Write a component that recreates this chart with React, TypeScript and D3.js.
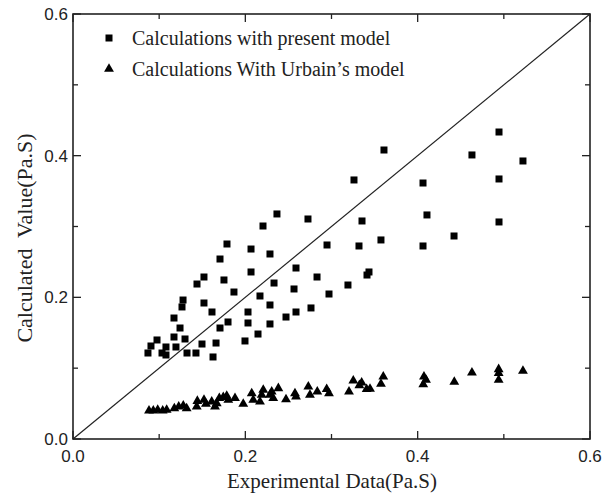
import React from "react";
import * as d3 from "d3";

const presentX = [0.2367,0.2205,0.1787,0.2066,0.2286,0.1706,0.1520,0.1439,0.1752,0.2066,0.2333,0.1868,0.2170,0.1277,0.1265,0.1520,0.1613,0.2286,0.2031,0.1172,0.1799,0.2031,0.1242,0.1706,0.2147,0.1172,0.1300,0.0975,0.0905,0.1079,0.1195,0.1497,0.1660,0.1996,0.0870,0.1033,0.1079,0.1323,0.1427,0.1625,0.4944,0.3609,0.4630,0.5222,0.4944,0.3261,0.4062,0.2727,0.4108,0.3354,0.4944,0.4422,0.3574,0.2948,0.3319,0.4062,0.2588,0.3435,0.3412,0.2832,0.2565,0.3191,0.2971,0.2588,0.2762,0.2472,0.2286];
const presentY = [0.3177,0.3007,0.2753,0.2682,0.2612,0.2541,0.2287,0.2188,0.2245,0.2358,0.2202,0.2075,0.2019,0.1962,0.1864,0.1920,0.1793,0.1892,0.1793,0.1708,0.1652,0.1638,0.1567,0.1567,0.1482,0.1440,0.1412,0.1398,0.1313,0.1299,0.1299,0.1341,0.1355,0.1384,0.1214,0.1214,0.1186,0.1214,0.1214,0.1158,0.4334,0.4080,0.4010,0.3925,0.3671,0.3657,0.3614,0.3106,0.3163,0.3078,0.3064,0.2866,0.2810,0.2739,0.2725,0.2725,0.2414,0.2358,0.2315,0.2287,0.2118,0.2174,0.2047,0.1793,0.1850,0.1722,0.1624];

const urbainX = [0.0882,0.0932,0.0983,0.1041,0.1087,0.1176,0.1227,0.1280,0.1319,0.1436,0.1443,0.1520,0.1543,0.1610,0.1648,0.1668,0.1698,0.1744,0.1784,0.1802,0.1880,0.1976,0.2074,0.2092,0.2170,0.2190,0.2208,0.2286,0.2306,0.2324,0.2383,0.2472,0.2576,0.2588,0.2731,0.2750,0.2835,0.2944,0.2971,0.3203,0.3253,0.3323,0.3350,0.3408,0.3447,0.3574,0.3601,0.4065,0.4073,0.4097,0.4425,0.4630,0.4940,0.4940,0.4940,0.5222];
const urbainY = [0.0400,0.0400,0.0409,0.0400,0.0409,0.0433,0.0456,0.0470,0.0433,0.0456,0.0536,0.0551,0.0494,0.0527,0.0456,0.0504,0.0575,0.0589,0.0607,0.0551,0.0575,0.0494,0.0645,0.0551,0.0527,0.0621,0.0692,0.0621,0.0668,0.0575,0.0716,0.0560,0.0645,0.0597,0.0738,0.0621,0.0668,0.0702,0.0645,0.0668,0.0823,0.0758,0.0795,0.0702,0.0706,0.0777,0.0880,0.0772,0.0880,0.0833,0.0805,0.0936,0.0984,0.0928,0.0833,0.0960];

const majorTicks = [0, 0.2, 0.4, 0.6];
const minorTicks = [0.1, 0.3, 0.5];
const legendLabels = ["Calculations with present model", "Calculations With Urbain\u2019s model"];
const xTitle = "Experimental Data(Pa.S)";
const yTitle = "Calculated  Value(Pa.S)";

const W = 602, H = 495;
const L = 73, R = 590, T = 14, B = 439;

export default function App() {
  const x = d3.scaleLinear().domain([0, 0.6]).range([L, R]);
  const y = d3.scaleLinear().domain([0, 0.6]).range([B, T]);
  const tri = d3.symbol().type(d3.symbolTriangle).size(42)();
  const sq = 7;
  const fmt = d3.format(".1f");
  const tickLines: any[] = [];
  majorTicks.forEach((t, i) => {
    tickLines.push(<line key={"bx" + i} x1={x(t)} x2={x(t)} y1={B} y2={B - 8} />);
    tickLines.push(<line key={"tx" + i} x1={x(t)} x2={x(t)} y1={T} y2={T + 8} />);
    tickLines.push(<line key={"ly" + i} x1={L} x2={L + 8} y1={y(t)} y2={y(t)} />);
    tickLines.push(<line key={"ry" + i} x1={R} x2={R - 8} y1={y(t)} y2={y(t)} />);
  });
  minorTicks.forEach((t, i) => {
    tickLines.push(<line key={"mbx" + i} x1={x(t)} x2={x(t)} y1={B} y2={B - 5} />);
    tickLines.push(<line key={"mtx" + i} x1={x(t)} x2={x(t)} y1={T} y2={T + 5} />);
    tickLines.push(<line key={"mly" + i} x1={L} x2={L + 5} y1={y(t)} y2={y(t)} />);
    tickLines.push(<line key={"mry" + i} x1={R} x2={R - 5} y1={y(t)} y2={y(t)} />);
  });
  return (
    <svg width={W} height={H} style={{ position: "absolute", left: 0, top: 0, background: "#fff" }}>
      <rect x={0} y={0} width={W} height={H} fill="#fff" />
      <line x1={x(0)} y1={y(0)} x2={x(0.6)} y2={y(0.6)} stroke="#222" strokeWidth={1.2} />
      {presentX.map((v, i) => (
        <rect key={"p" + i} x={x(v) - sq / 2} y={y(presentY[i]) - sq / 2} width={sq} height={sq} fill="#000" />
      ))}
      {urbainX.map((v, i) => (
        <path key={"u" + i} d={tri as string} transform={`translate(${x(v)},${y(urbainY[i])})`} fill="#000" />
      ))}
      <g stroke="#222" strokeWidth={1.3}>{tickLines}</g>
      <rect x={L} y={T} width={R - L} height={B - T} fill="none" stroke="#222" strokeWidth={1.6} />
      <g fontFamily="'Liberation Sans', Arial, sans-serif" fontSize={17} fill="#222">
        {majorTicks.map((t, i) => (
          <text key={"xl" + i} x={x(t)} y={B + 23} textAnchor="middle">{fmt(t)}</text>
        ))}
        {majorTicks.map((t, i) => (
          <text key={"yl" + i} x={L - 5} y={y(t) + 6} textAnchor="end">{fmt(t)}</text>
        ))}
      </g>
      <g fontFamily="'Liberation Serif', 'Times New Roman', serif" fill="#222">
        <text x={332} y={488} textAnchor="middle" fontSize={21}>{xTitle}</text>
        <text transform={`translate(32,238) rotate(-90)`} textAnchor="middle" fontSize={22} style={{ whiteSpace: "pre" }}>{yTitle}</text>
        <rect x={109 - 3.5} y={38 - 3.5} width={sq} height={sq} fill="#000" />
        <text x={132} y={45} fontSize={20}>{legendLabels[0]}</text>
        <path d={tri as string} transform="translate(109,69)" fill="#000" />
        <text x={132} y={76} fontSize={20}>{legendLabels[1]}</text>
      </g>
    </svg>
  );
}
